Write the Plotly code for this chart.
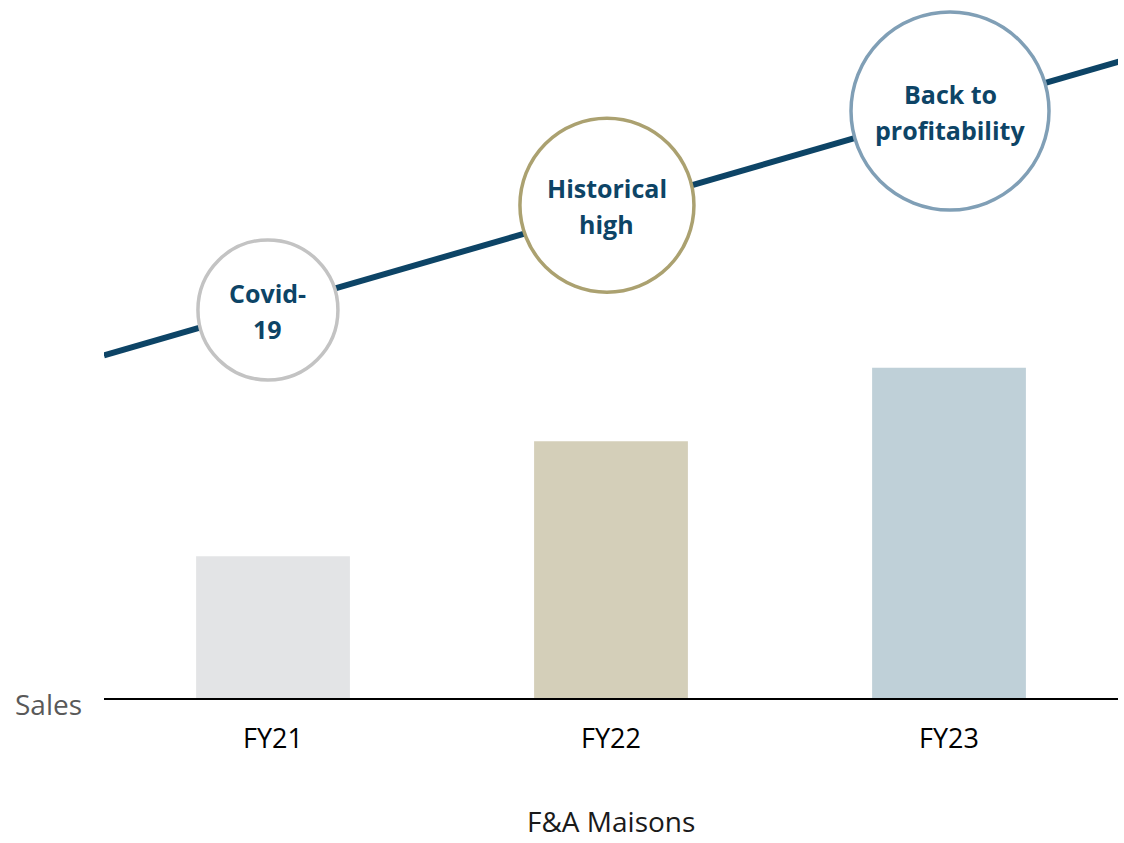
import plotly.graph_objects as go

# ---- data ----
categories = ["FY21", "FY22", "FY23"]
sales = [20.3, 36.8, 47.3]
bar_colors = ["#E3E4E6", "#D4CFB9", "#BFD0D8"]

trend_x = [-0.5, 2.52]
trend_y = [49.1, 91.4]

milestone_lines = [["Covid-", "19"], ["Historical", "high"], ["Back to", "profitability"]]
milestone_x = [-0.015, 0.988, 2.003]
milestone_y = [55.6, 70.6, 84.1]
milestone_radius = [70, 87, 99]
milestone_colors = ["#C3C3C3", "#ABA170", "#809FB6"]

x_idx = list(range(len(categories)))

NAVY = "#0D4466"
FONT = "Open Sans"

fig = go.Figure()

fig.add_trace(go.Bar(
    x=x_idx, y=sales, marker=dict(color=bar_colors, line=dict(width=0)),
    width=0.455, hoverinfo="skip", showlegend=False,
))

fig.add_trace(go.Scatter(
    x=trend_x, y=trend_y, mode="lines",
    line=dict(color=NAVY, width=6), cliponaxis=False,
    hoverinfo="skip", showlegend=False,
))

shapes = []
annotations = []
for lines, cx, cy, r, col in zip(milestone_lines, milestone_x, milestone_y,
                                 milestone_radius, milestone_colors):
    shapes.append(dict(
        type="circle", xref="x", yref="y",
        xsizemode="pixel", ysizemode="pixel",
        xanchor=cx, yanchor=cy,
        x0=-r, x1=r, y0=-r, y1=r,
        fillcolor="white", line=dict(color=col, width=3.5), layer="above",
    ))
    for i, ln in enumerate(lines):
        annotations.append(dict(
            x=cx, y=cy, xref="x", yref="y", text=f"<b>{ln}</b>",
            showarrow=False, font=dict(family=FONT, size=25, color=NAVY),
            align="center", yanchor="middle",
            yshift=(18 if i == 0 else -18) - 1,
        ))

annotations.append(dict(
    x=0, y=0, xref="paper", yref="y", text="Sales", xanchor="right",
    yanchor="middle", xshift=-20, yshift=-6, showarrow=False,
    font=dict(family=FONT, size=28, color="#595959"),
))
annotations.append(dict(
    x=0.5, y=0, xref="paper", yref="paper", text="F&A Maisons",
    xanchor="center", yanchor="middle", yshift=-123, showarrow=False,
    font=dict(family=FONT, size=28, color="#1a1a1a"),
))

fig.update_layout(
    width=1124, height=843,
    margin=dict(l=104, r=6, t=0, b=145),
    paper_bgcolor="white", plot_bgcolor="white",
    shapes=shapes, annotations=annotations,
    xaxis=dict(
        range=[-0.5, 2.5], tickvals=x_idx, ticktext=categories,
        showgrid=False, zeroline=False, showline=True,
        linecolor="black", linewidth=2, ticks="",
        ticklabelstandoff=16,
        tickfont=dict(family=FONT, size=27, color="black"),
        fixedrange=True,
    ),
    yaxis=dict(
        range=[0, 100], visible=False, showgrid=False, zeroline=False,
        fixedrange=True,
    ),
    font=dict(family=FONT),
)

fig.write_html(
    "out.html",
    config={"displayModeBar": False},
    post_script="document.body.style.margin='0';document.body.style.overflow='hidden';",
)
